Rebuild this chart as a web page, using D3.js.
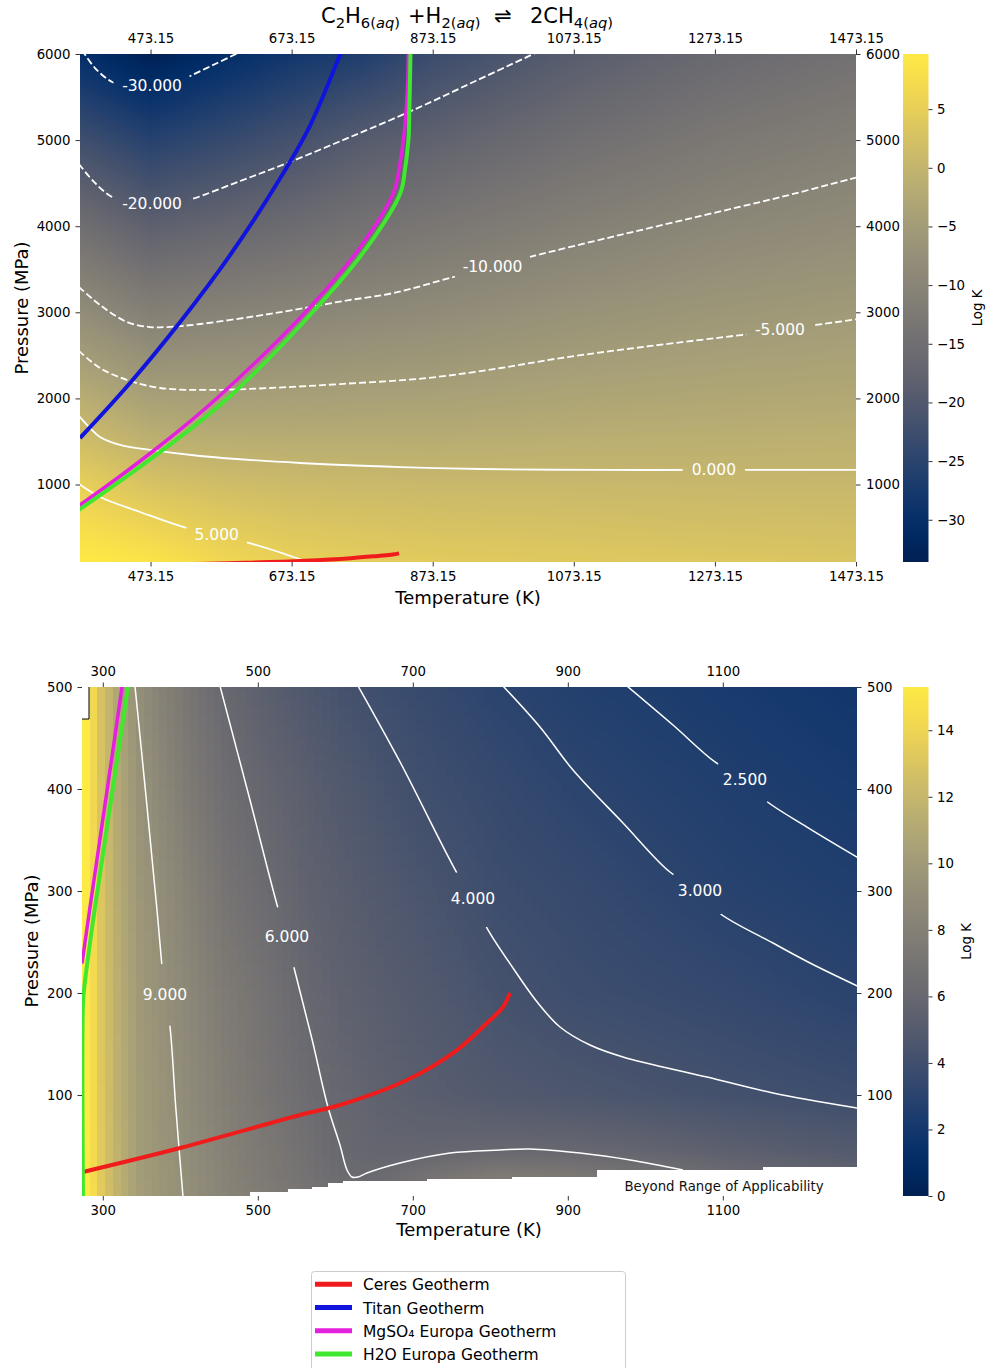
<!DOCTYPE html>
<html>
<head>
<meta charset="utf-8">
<script src="https://cdn.jsdelivr.net/npm/d3@7"></script>
<style>
  body { margin: 0; background: #fff; }
</style>
</head>
<body>
<svg id="fig" width="987" height="1368"></svg>
<script>
// ---------------- data ----------------

// ticks
const topTempTicks = [473.15, 673.15, 873.15, 1073.15, 1273.15, 1473.15];
const topPresTicks = [1000, 2000, 3000, 4000, 5000, 6000];
const botTempTicks = [300, 500, 700, 900, 1100];
const botPresTicks = [100, 200, 300, 400, 500];
const topCbarTicks = [5, 0, -5, -10, -15, -20, -25, -30];
const botCbarTicks = [0, 2, 4, 6, 8, 10, 12, 14];

// log K grid, upper panel (rows = pressure, cols = temperature)
const topGridT = [373.15, 473.15, 573.15, 673.15, 773.15, 873.15, 1073.15, 1273.15, 1473.15];
const topGridP = [100, 1000, 2000, 3000, 4000, 5000, 6000];
const topK_P100  = [9.7, 8.6, 6.5, 5.2, 4.6, 4.2, 3.8, 3.4, 3.1];
const topK_P1000 = [4.96, 2.66, 1.7, 1.14, 0.93, 0.78, 0.7, 0.55, 0.5];
const topK_P2000 = [-1.43, -4.05, -4.34, -4.17, -3.96, -3.85, -3.13, -2.71, -2.38];
const topK_P3000 = [-8.1, -11.1, -10.4, -9.85, -9.1, -8.46, -7.0, -6.0, -5.27];
const topK_P4000 = [-15.0, -18.2, -17.0, -15.7, -14.2, -13.1, -11.0, -9.4, -8.3];
const topK_P5000 = [-22.3, -25.5, -23.7, -21.7, -19.3, -17.85, -15.0, -12.8, -11.3];
const topK_P6000 = [-30.1, -33.5, -30.6, -28.2, -26.3, -23.0, -19.0, -16.3, -14.4];

// log K grid, lower panel
const botGridT = [273.15, 283.15, 293.15, 313.15, 343.15, 373.15, 403.15, 453.15, 503.15,
                  553.15, 603.15, 653.15, 703.15, 803.15, 903.15, 1003.15, 1103.15, 1273.15];
const botGridP = [1, 20, 45, 100, 200, 300, 400, 500];
const botK_P1   = [15.3, 14.5, 13.4, 11.8, 10.2, 9.6, 9.15, 8.3, 7.7, 7.1, 6.6, 6.4, 7.0, 7.9, 7.7, 7.1, 6.5, 5.9];
const botK_P20  = [15.3, 14.4, 13.3, 11.7, 10.15, 9.55, 9.1, 8.2, 7.5, 6.9, 6.3, 6.2, 6.8, 7.6, 7.4, 6.8, 6.3, 5.7];
const botK_P45  = [15.3, 14.4, 13.3, 11.7, 10.1, 9.5, 9.0, 8.1, 7.4, 6.75, 6.05, 5.8, 5.85, 6.0, 5.98, 5.75, 5.4, 4.9];
const botK_P100 = [15.3, 14.4, 13.2, 11.6, 10.05, 9.4, 8.85, 7.9, 7.1, 6.45, 5.95, 5.55, 5.25, 4.85, 4.6, 4.38, 4.15, 3.85];
const botK_P200 = [15.3, 14.3, 13.1, 11.5, 9.9, 9.2, 8.6, 7.55, 6.85, 6.05, 5.55, 5.2, 4.9, 4.25, 3.87, 3.67, 3.45, 3.0];
const botK_P300 = [15.3, 14.3, 13.0, 11.3, 9.7, 8.95, 8.2, 7.0, 6.3, 5.65, 5.25, 4.85, 4.5, 3.85, 3.58, 3.22, 2.92, 2.6];
const botK_P400 = [15.3, 14.2, 12.9, 11.1, 9.4, 8.5, 7.6, 6.5, 5.85, 5.35, 4.85, 4.4, 4.0, 3.55, 3.14, 2.85, 2.6, 2.25];
const botK_P500 = [15.3, 14.2, 12.8, 10.9, 9.05, 8.0, 7.2, 6.0, 5.35, 4.78, 4.25, 3.9, 3.62, 3.08, 2.72, 2.48, 2.25, 1.9];

// contour lines, upper panel [T (K), P (MPa)]
const topC_m30 = [[376,6046],[394.4,5837],[418.6,5675],[444.1,5617],[475.3,5605],[503.7,5640],[529.3,5744],[564.8,5884],[600.2,6023]];
const topC_m20 = [[371.7,4722],[394.4,4502],[418.6,4339],[444.1,4270],[475.3,4246],[503.7,4258],[532.1,4316],[600.2,4525],[667,4734],[756.4,5036],[845.8,5350],[933.8,5686],[1021.8,6023]];
const topC_m10 = [[371.7,3294],[401.5,3085],[439.9,2887],[472.5,2829],[496.6,2829],[543.5,2864],[614.4,2946],[675.5,3027],[746.4,3131],[817.4,3224],[902.6,3410],[958,3526],[1016.2,3654],[1132.5,3886],[1253.2,4119],[1366.7,4339],[1476,4571]];
const topC_m5  = [[371.7,2551],[401.5,2353],[439.9,2214],[486.7,2121],[557.7,2098],[642.8,2121],[742.2,2167],[865.7,2237],[969.3,2353],[1054.5,2469],[1182.2,2609],[1309.9,2736],[1365.3,2795],[1416.3,2853],[1476,2922]];
const topC_0   = [[371.7,1796],[387.3,1656],[401.5,1552],[429.9,1459],[472.5,1401],[543.5,1331],[685.4,1250],[827.4,1203],[940.9,1180],[1111.2,1169],[1271.6,1169],[1476,1169]];
const topC_5   = [[371.7,1006],[401.5,855],[458.3,681],[519.3,507],[567,414],[612.4,321],[655,216],[700.4,88]];
const topLabelLevel = [-30, -20, -10, -5, 0, 5];
const topLabelT = [475.3, 475.3, 958, 1365.3, 1271.6, 567];
const topLabelP = [5628, 4258, 3526, 2795, 1169, 414];

// contour lines, lower panel
const botC_9  = [[341.5,501],[355.7,393],[369.9,281.4],[380.2,198],[386.7,166.7],[394.4,85.3],[403.5,0]];
const botC_6  = [[451.2,501],[489.9,389.2],[526,283.3],[537.6,254.9],[546.8,224.5],[570.2,153.9],[590.5,88.2],[606,51],[615.1,26.5],[621.5,19.6],[629.3,19.6],[640.9,23.5],[683.5,33.3],[748,43.1],[812.5,46.1],[851.2,47.1],[915.7,43.1],[980.4,36.3],[1048.6,26.5]];
const botC_4  = [[629.3,501],[683.5,426.5],[757,317.6],[777.7,292.2],[795.7,263.7],[829.3,224.5],[861.5,190.2],[889.9,166.7],[928.6,149],[971.2,137.3],[1079.6,117.6],[1164.7,102],[1277,86.8]];
const botC_3  = [[816.3,501],[864.1,460.8],[906.7,418.6],[971.2,366.7],[1031.8,318.6],[1070.6,300],[1093.8,279.4],[1164.7,249],[1212.5,229.4],[1276,206]];
const botC_25 = [[976.3,501],[1035.7,462.7],[1089.9,426.5],[1128.6,408.8],[1154.4,389.2],[1208.6,362.7],[1276,332]];
const botLabelLevel = [9, 6, 4, 3, 2.5];
const botLabelT = [380.2, 537.6, 777.7, 1070.6, 1128.6];
const botLabelP = [198, 254.9, 292.2, 300, 408.8];

// lower limit of the applicability range (step starts)
const rangeEdgeT = [489.9, 538.9, 569.9, 590.6, 609.9, 718.3, 828.0, 937.7, 1151.9];
const rangeFloorP = [4.9, 7.8, 9.8, 13.7, 15.7, 17.6, 19.6, 26.5, 29.4];
// empty corner cell in the lower panel
const nanBoxT = [273.15, 282.2];
const nanBoxP = [468.6, 500];

// geotherms [T (K), P (MPa)]
const ceresGeo = [[274.4,24.5],[399.6,48],[554.4,80.4],[606,90.2],[692.5,114.7],[757,144.1],[795.7,170.6],[816.4,186.3],[825.4,200]];
const titanGeo = [[373.15,1540],[444.1,2179],[515.1,2887],[586.1,3666],[657.1,4560],[699.6,5175],[742.2,6000],[748.2,6116]];
const mgso4Geo = [[273.15,229],[283.5,284],[324.8,500],[373.15,762],[482.4,1424],[567.6,2005],[699.6,3062],[770.6,3759],[817.4,4386],[825.2,4653],[831.6,5001],[837.3,5582],[838.7,6000],[839,6100]];
const h2oGeo   = [[274.4,0],[274.4,190],[276,205],[289.9,284],[332.5,500],[373.15,715],[486.7,1378],[583,2005],[709.6,3062],[780.5,3759],[827.3,4386],[833.7,4653],[838.7,5001],[840.1,5384],[841.6,6000],[841.8,6100]];
const legendNames = ["Ceres Geotherm", "Titan Geotherm", "MgSO\u2084 Europa Geotherm", "H2O Europa Geotherm"];
const geoColors = ["#f01b1b", "#1014dc", "#e320de", "#40e82e"];

// ---------------- drawing ----------------
const FONT = "'DejaVu Sans', sans-serif";
const svg = d3.select("#fig");
svg.append("rect").attr("width", 987).attr("height", 1368).attr("fill", "#fff");
const defs = svg.append("defs");

const xTop = d3.scaleLinear().domain([373.15, 1473.15]).range([80, 856]);
const yTop = d3.scaleLinear().domain([100, 6000]).range([562, 54]);
const xBot = d3.scaleLinear().domain([273.15, 1273.15]).range([82, 857]);
const yBot = d3.scaleLinear().domain([1, 500]).range([1196, 687]);
const cTop = d3.scaleSequential(d3.interpolateCividis).domain([-33.6, 9.7]);
const cBot = d3.scaleSequential(d3.interpolateCividis).domain([0, 15.3]);

function heatmap(g, x, y, gT, gP, rows, color, band) {
  const [x0, x1] = x.range(), [y1, y0] = y.range();
  const w = x1 - x0, h = y1 - y0;
  const cv = document.createElement("canvas");
  cv.width = w; cv.height = h;
  const ctx = cv.getContext("2d");
  const img = ctx.createImageData(w, h);
  const [c0, c1] = color.domain();
  const lut = d3.range(512).map(i => d3.rgb(color(c0 + (c1 - c0) * i / 511)));
  const fi = d3.scaleLinear().domain(gT).range(d3.range(gT.length)).clamp(true);
  const fj = d3.scaleLinear().domain(gP).range(d3.range(gP.length)).clamp(true);
  const t0 = x.domain()[0];
  for (let px = 0; px < w; px++) {
    let T = x.invert(x0 + px + 0.5);
    if (band) T = t0 + Math.floor((T - t0) / band) * band;
    const a = fi(T), i = Math.min(Math.floor(a), gT.length - 2), u = a - i;
    for (let py = 0; py < h; py++) {
      const P = y.invert(y0 + py + 0.5);
      const b = fj(P), j = Math.min(Math.floor(b), gP.length - 2), v = b - j;
      const k = (1 - u) * (1 - v) * rows[j][i] + u * (1 - v) * rows[j][i + 1]
              + (1 - u) * v * rows[j + 1][i] + u * v * rows[j + 1][i + 1];
      const idx = Math.max(0, Math.min(511, Math.round((k - c0) / (c1 - c0) * 511)));
      const c = lut[idx], o = (py * w + px) * 4;
      img.data[o] = c.r; img.data[o + 1] = c.g; img.data[o + 2] = c.b; img.data[o + 3] = 255;
    }
  }
  ctx.putImageData(img, 0, 0);
  g.append("image").attr("x", x0).attr("y", y0).attr("width", w).attr("height", h)
    .attr("preserveAspectRatio", "none").attr("href", cv.toDataURL());
}

function axes(g, x, y, xTicks, xFmt, yTicks) {
  const style = s => {
    s.attr("font-size", 13.3).attr("font-family", FONT);
    s.select(".domain").remove();
    s.selectAll("line").attr("stroke", "#000").attr("stroke-width", 0.8);
    s.selectAll("text").attr("fill", "#000");
  };
  g.append("g").attr("transform", `translate(0,${y.range()[0]})`)
    .call(d3.axisBottom(x).tickValues(xTicks).tickFormat(xFmt).tickSize(4.5).tickPadding(5.5)).call(style);
  g.append("g").attr("transform", `translate(0,${y.range()[1]})`)
    .call(d3.axisTop(x).tickValues(xTicks).tickFormat(xFmt).tickSize(4.5).tickPadding(6.5)).call(style);
  g.append("g").attr("transform", `translate(${x.range()[0]},0)`)
    .call(d3.axisLeft(y).tickValues(yTicks).tickFormat(d3.format("d")).tickSize(4.5).tickPadding(5)).call(style);
  g.append("g").attr("transform", `translate(${x.range()[1]},0)`)
    .call(d3.axisRight(y).tickValues(yTicks).tickFormat(d3.format("d")).tickSize(4.5).tickPadding(5.5)).call(style);
}

function colorbar(g, id, color, ticks, x0, y, labelX) {
  const grad = defs.append("linearGradient").attr("id", id)
    .attr("x1", 0).attr("y1", 1).attr("x2", 0).attr("y2", 0);
  d3.range(0, 1.0001, 0.05).forEach(t => grad.append("stop").attr("offset", t).attr("stop-color", d3.interpolateCividis(t)));
  const cs = d3.scaleLinear().domain(color.domain()).range(y.range());
  g.append("rect").attr("x", x0).attr("y", y.range()[1]).attr("width", 25.5)
    .attr("height", y.range()[0] - y.range()[1]).attr("fill", `url(#${id})`);
  g.append("g").attr("transform", `translate(${x0 + 25.5},0)`)
    .call(d3.axisRight(cs).tickValues(ticks).tickFormat(d3.format("d")).tickSize(4).tickPadding(4.5))
    .call(s => {
      s.attr("font-size", 13.3).attr("font-family", FONT);
      s.select(".domain").remove();
      s.selectAll("line").attr("stroke", "#000").attr("stroke-width", 0.8);
      s.selectAll("text").attr("fill", "#000");
    });
  const yc = (y.range()[0] + y.range()[1]) / 2;
  g.append("text").attr("transform", `translate(${labelX},${yc}) rotate(-90)`)
    .attr("text-anchor", "middle").attr("font-size", 13.3).attr("font-family", FONT).text("Log K");
}

function contours(g, id, x, y, lines, levels, labT, labP, labLev, width) {
  const line = d3.line().x(d => x(d[0])).y(d => y(d[1])).curve(d3.curveCatmullRom.alpha(0.5));
  const mask = defs.append("mask").attr("id", id).attr("maskUnits", "userSpaceOnUse")
    .attr("x", 0).attr("y", 0).attr("width", 987).attr("height", 1368);
  mask.append("rect").attr("width", 987).attr("height", 1368).attr("fill", "#fff");
  const cg = g.append("g").attr("mask", `url(#${id})`);
  lines.forEach((pts, i) => {
    cg.append("path").attr("d", line(pts)).attr("fill", "none").attr("stroke", "#fff")
      .attr("stroke-width", width).attr("stroke-dasharray", levels[i] < 0 ? "7,3" : null);
  });
  const fmt = v => (v < 0 ? "-" : "") + Math.abs(v).toFixed(3);
  labLev.forEach((lv, i) => {
    const t = g.append("text").attr("x", x(labT[i])).attr("y", y(labP[i]))
      .attr("text-anchor", "middle").attr("dominant-baseline", "central")
      .attr("font-size", 15.5).attr("font-family", FONT).attr("fill", "#fff").text(fmt(lv));
    const tw = t.node().getComputedTextLength();
    mask.append("circle").attr("cx", x(labT[i])).attr("cy", y(labP[i])).attr("r", tw / 2 + 9).attr("fill", "#000");
  });
}

function geotherms(g, x, y) {
  const line = d3.line().x(d => x(d[0])).y(d => y(d[1])).curve(d3.curveCatmullRom.alpha(0.5));
  [ceresGeo, titanGeo, mgso4Geo, h2oGeo].forEach((pts, i) => {
    g.append("path").attr("d", line(pts)).attr("fill", "none").attr("stroke", geoColors[i])
      .attr("stroke-width", i === 2 ? 3.5 : 4).attr("stroke-linejoin", "round");
  });
}

function clip(id, x, y) {
  defs.append("clipPath").attr("id", id).append("rect")
    .attr("x", x.range()[0]).attr("y", y.range()[1])
    .attr("width", x.range()[1] - x.range()[0]).attr("height", y.range()[0] - y.range()[1]);
}

// ---- upper panel ----
clip("clipTop", xTop, yTop);
const topPanel = svg.append("g");
const topPlot = topPanel.append("g").attr("clip-path", "url(#clipTop)");
heatmap(topPlot, xTop, yTop, topGridT, topGridP,
  [topK_P100, topK_P1000, topK_P2000, topK_P3000, topK_P4000, topK_P5000, topK_P6000], cTop, 0);
contours(topPlot, "maskTop", xTop, yTop,
  [topC_m30, topC_m20, topC_m10, topC_m5, topC_0, topC_5], [-30, -20, -10, -5, 0, 5],
  topLabelT, topLabelP, topLabelLevel, 1.8);
geotherms(topPlot, xTop, yTop);
axes(topPanel, xTop, yTop, topTempTicks, d3.format(".2f"), topPresTicks);
colorbar(topPanel, "gradTop", cTop, topCbarTicks, 903, yTop, 982);

// ---- lower panel ----
clip("clipBot", xBot, yBot);
const botPanel = svg.append("g");
const botPlot = botPanel.append("g").attr("clip-path", "url(#clipBot)");
heatmap(botPlot, xBot, yBot, botGridT, botGridP,
  [botK_P1, botK_P20, botK_P45, botK_P100, botK_P200, botK_P300, botK_P400, botK_P500], cBot, 10);
// beyond range of applicability: blank out
const stepPts = rangeEdgeT.map((t, i) => [t, rangeFloorP[i]]);
stepPts.push([xBot.domain()[1] + 5, rangeFloorP[rangeFloorP.length - 1]]);
botPlot.append("path")
  .attr("d", d3.area().curve(d3.curveStepAfter).x(d => xBot(d[0])).y0(yBot.range()[0] + 2).y1(d => yBot(d[1]))(stepPts))
  .attr("fill", "#fff");
// empty corner cell
botPlot.append("rect").attr("x", xBot(nanBoxT[0])).attr("y", yBot(nanBoxP[1]))
  .attr("width", xBot(nanBoxT[1]) - xBot(nanBoxT[0])).attr("height", yBot(nanBoxP[0]) - yBot(nanBoxP[1]))
  .attr("fill", "#fff");
botPlot.append("path")
  .attr("d", `M${xBot(nanBoxT[1])},${yBot(nanBoxP[1])}V${yBot(nanBoxP[0])}H${xBot(nanBoxT[0])}`)
  .attr("fill", "none").attr("stroke", "#000").attr("stroke-width", 1);
contours(botPlot, "maskBot", xBot, yBot,
  [botC_9, botC_6, botC_4, botC_3, botC_25], [9, 6, 4, 3, 2.5],
  botLabelT, botLabelP, botLabelLevel, 1.5);
geotherms(botPlot, xBot, yBot);
axes(botPanel, xBot, yBot, botTempTicks, d3.format("d"), botPresTicks);
colorbar(botPanel, "gradBot", cBot, botCbarTicks, 903, yBot, 971);
botPanel.append("text").attr("x", 724).attr("y", 1191).attr("text-anchor", "middle")
  .attr("font-size", 13.3).attr("font-family", FONT).attr("fill", "#111").text("Beyond Range of Applicability");

// ---- axis labels ----
const lab = (x, y, rot, txt) => svg.append("text")
  .attr("transform", `translate(${x},${y})` + (rot ? " rotate(-90)" : ""))
  .attr("text-anchor", "middle").attr("font-size", 18).attr("font-family", FONT).attr("fill", "#000").text(txt);
lab(468, 604, false, "Temperature (K)");
lab(469, 1236, false, "Temperature (K)");
lab(28, 308, true, "Pressure (MPa)");
lab(38, 941, true, "Pressure (MPa)");

// ---- title ----
const titleParts = [
  {x: 321, t: "C"}, {t: "2", s: 1}, {t: "H"}, {t: "6(", s: 1}, {t: "aq", s: 1, i: 1}, {t: ")", s: 1},
  {x: 408, t: "+H"}, {t: "2(", s: 1}, {t: "aq", s: 1, i: 1}, {t: ")", s: 1},
  {x: 494, t: "\u21cc"},
  {x: 530, t: "2CH"}, {t: "4(", s: 1}, {t: "aq", s: 1, i: 1}, {t: ")", s: 1}
];
const title = svg.append("text").attr("y", 23).attr("font-size", 21).attr("font-family", FONT).attr("fill", "#000");
let cur = 0;
titleParts.forEach(p => {
  const off = p.s ? 4.5 : 0;
  const ts = title.append("tspan").attr("dy", off - cur).text(p.t)
    .attr("font-size", p.s ? 14.7 : 21).attr("font-style", p.i ? "italic" : null);
  if (p.x !== undefined) ts.attr("x", p.x);
  cur = off;
});

// ---- legend ----
const leg = svg.append("g");
leg.append("rect").attr("x", 311.5).attr("y", 1271.5).attr("width", 314).attr("height", 110)
  .attr("rx", 3).attr("fill", "#fff").attr("stroke", "#cccccc").attr("stroke-width", 1);
legendNames.forEach((name, i) => {
  const yy = 1284.3 + i * 23.2;
  leg.append("line").attr("x1", 315).attr("x2", 352).attr("y1", yy).attr("y2", yy)
    .attr("stroke", geoColors[i]).attr("stroke-width", 5);
  leg.append("text").attr("x", 363).attr("y", yy + 6).attr("font-size", 15.5)
    .attr("font-family", FONT).attr("fill", "#000").text(name);
});
</script>
</body>
</html>
